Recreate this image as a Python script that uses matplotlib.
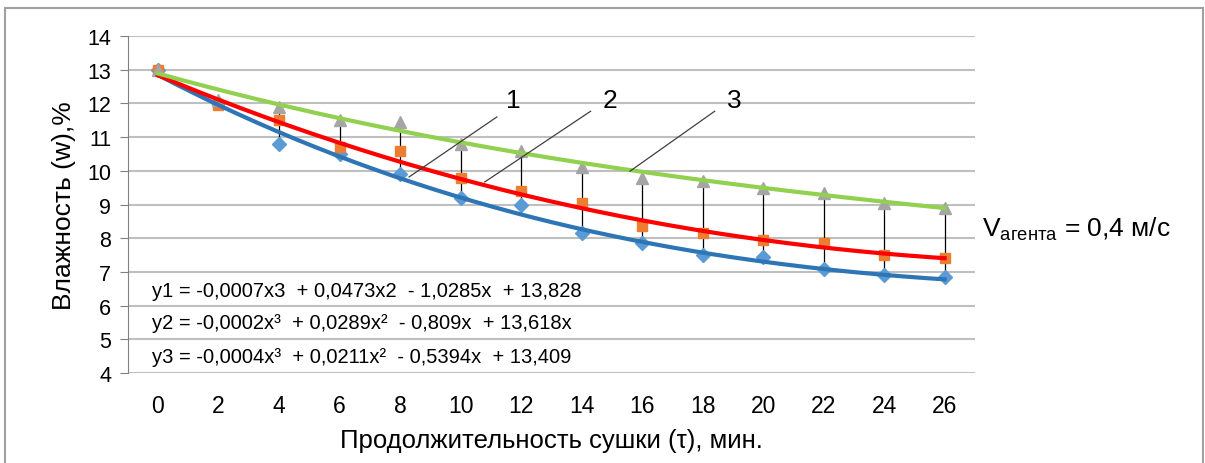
import numpy as np
import matplotlib.pyplot as plt
from matplotlib.patches import Rectangle

plt.rcParams['font.family'] = ['Liberation Sans', 'DejaVu Sans']
plt.rcParams['mathtext.fontset'] = 'custom'
plt.rcParams['mathtext.rm'] = 'Liberation Sans'

# время сушки, мин
t = [0, 2, 4, 6, 8, 10, 12, 14, 16, 18, 20, 22, 24, 26]
# влажность, % (три серии опытов)
w1 = [13.0, 12.0, 10.8, 10.5, 9.9, 9.2, 9.0, 8.15, 7.85, 7.5, 7.45, 7.1, 6.9, 6.85]
w2 = [13.0, 11.95, 11.5, 10.7, 10.6, 9.8, 9.4, 9.05, 8.35, 8.15, 7.95, 7.85, 7.5, 7.4]
w3 = [13.0, 12.1, 11.9, 11.5, 11.45, 10.8, 10.6, 10.1, 9.8, 9.7, 9.5, 9.35, 9.05, 8.9]

# коэффициенты линий тренда (x = номер точки 1..14)
k1 = [-0.0007, 0.0473, -1.0285, 13.828]
k2 = [-0.0002, 0.0289, -0.809, 13.618]
k3 = [-0.0004, 0.0211, -0.5394, 13.409]

eq_texts = [
    'y1 = -0,0007x3  + 0,0473x2  - 1,0285x  + 13,828',
    'y2 = -0,0002x³  + 0,0289x²  - 0,809x  + 13,618x',
    'y3 = -0,0004x³  + 0,0211x²  - 0,5394x  + 13,409',
]
eq_y = [6.45, 5.5, 4.5]

fig = plt.figure(figsize=(12.05, 4.64), dpi=100)
ax = fig.add_axes([0.106, 0.194, 0.703, 0.726])

t = np.array(t)
ax.vlines(t, np.minimum(w1, w3), np.maximum(w1, w3), color='black', lw=0.9, zorder=2)

ax.plot(t, w1, 'D', color='#5b9bd5', ms=7, zorder=3)
ax.plot(t, w2, 's', color='#ed7d31', ms=7, zorder=3)
ax.plot(t, w3, '^', color='#a5a5a5', ms=8, zorder=3)

n = np.linspace(1, 14, 200)
ax.plot((n - 1) * 2, np.polyval(k1, n), color='#2e75b6', lw=3, zorder=4)
ax.plot((n - 1) * 2, np.polyval(k2, n), color='#ff0000', lw=3, zorder=4)
ax.plot((n - 1) * 2, np.polyval(k3, n), color='#92d050', lw=3, zorder=4)

# выноски 1, 2, 3
ax.plot([8.3, 11.2], [9.82, 11.6], color='#404040', lw=0.9, zorder=5)
ax.plot([10.8, 14.3], [9.67, 11.77], color='#404040', lw=0.9, zorder=5)
ax.plot([15.6, 18.4], [9.99, 11.77], color='#404040', lw=0.9, zorder=5)
for lbl, xx in zip(['1', '2', '3'], [11.5, 14.7, 18.8]):
    ax.text(xx, 12.1, lbl, fontsize=19, ha='left', va='center')

for s, yy in zip(eq_texts, eq_y):
    ax.text(-0.2, yy, s, fontsize=14.5, ha='left', va='center')

ax.set_xlim(-1, 27)
ax.set_ylim(4, 14)
ax.set_xticks(t)
ax.set_yticks(range(4, 15))
ax.tick_params(axis='x', length=0, labelsize=16.5, pad=15)
ax.tick_params(axis='y', length=6, color='#808080', labelsize=15.5, pad=6)
ax.grid(axis='y', color='#bfbfbf', lw=1.5)
ax.set_axisbelow(True)
for s in ['top', 'right', 'bottom']:
    ax.spines[s].set_visible(False)
ax.spines['left'].set_color('#808080')

ax.set_xlabel('Продолжительность сушки (τ), мин.', fontsize=18.5, labelpad=8)
ax.set_ylabel('Влажность (w),%', fontsize=19, labelpad=8)

fig.text(0.815, 0.505, r'$\mathregular{V_{агента}}$ = 0,4 м/с', fontsize=19, ha='left', va='center')

fig.patches.append(Rectangle((0.004, -0.01), 0.994, 0.99, transform=fig.transFigure,
                             fill=False, edgecolor='#a0a0a0', lw=1.5))

fig.savefig('out.png', dpi=100)
